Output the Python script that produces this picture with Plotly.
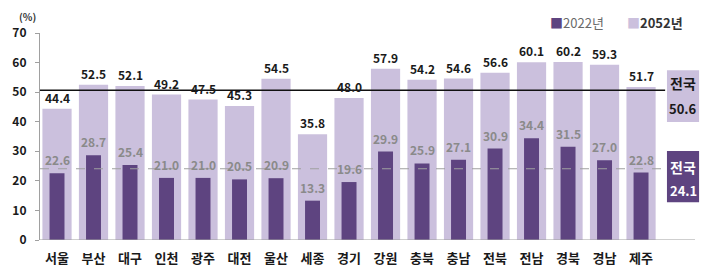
import plotly.graph_objects as go

regions = ["서울", "부산", "대구", "인천", "광주", "대전", "울산", "세종", "경기",
           "강원", "충북", "충남", "전북", "전남", "경북", "경남", "제주"]
y2022 = [22.6, 28.7, 25.4, 21.0, 21.0, 20.5, 20.9, 13.3, 19.6,
         29.9, 25.9, 27.1, 30.9, 34.4, 31.5, 27.0, 22.8]
y2052 = [44.4, 52.5, 52.1, 49.2, 47.5, 45.3, 54.5, 35.8, 48.0,
         57.9, 54.2, 54.6, 56.6, 60.1, 60.2, 59.3, 51.7]
nat2022 = 24.1
nat2052 = 50.6
yticks = [0, 10, 20, 30, 40, 50, 60, 70]

DARK = "#5e4480"
LIGHT = "#cbc0dd"
GRAYTXT = "#8a8a8a"
FONT = "Noto Sans CJK KR"

x = list(range(len(regions)))
xmin, xmax = -0.466, 17.67
line_end = 16.66
axis_end = 17.48

fig = go.Figure()
fig.add_trace(go.Bar(x=x, y=y2052, width=0.8, marker_color=LIGHT, name="2052년",
                     marker_line_width=0, showlegend=False, hoverinfo="skip"))
fig.add_trace(go.Bar(x=x, y=y2022, width=0.41, marker_color=DARK, name="2022년",
                     marker_line_width=0, showlegend=False, hoverinfo="skip"))

anns = []
for xi, v in zip(x, y2052):
    anns.append(dict(x=xi, y=v, text=f"<b>{v:.1f}</b>", showarrow=False, yanchor="bottom",
                     yshift=1, font=dict(family=FONT, size=12, color="#1a1a1a")))
for xi, v in zip(x, y2022):
    anns.append(dict(x=xi, y=v, text=f"<b>{v:.1f}</b>", showarrow=False, yanchor="bottom",
                     yshift=3, font=dict(family=FONT, size=12, color=GRAYTXT)))

shapes = []
shapes.append(dict(type="line", xref="x", yref="y", x0=xmin, x1=line_end, y0=nat2052, y1=nat2052,
                   line=dict(color="#111111", width=1.5), layer="above"))
shapes.append(dict(type="line", xref="x", yref="y", x0=xmin, x1=line_end, y0=nat2022, y1=nat2022,
                   line=dict(color="#a0a0a0", width=1.2, dash="dash"), layer="above"))
shapes.append(dict(type="line", xref="x", yref="y", x0=xmin, x1=axis_end, y0=0, y1=0,
                   line=dict(color="#a0a0a0", width=1.2), layer="above"))
shapes.append(dict(type="rect", xref="x", yref="y", x0=16.71, x1=17.59, y0=39.9, y1=57.4,
                   fillcolor=LIGHT, line_width=0, layer="above"))
shapes.append(dict(type="rect", xref="x", yref="y", x0=16.71, x1=17.59, y0=12.8, y1=30.1,
                   fillcolor=DARK, line_width=0, layer="above"))
anns.append(dict(x=17.15, y=53.0, text="<b>전국</b>", showarrow=False,
                 font=dict(family=FONT, size=14, color="#1a1a1a")))
anns.append(dict(x=17.15, y=44.6, text=f"<b>{nat2052:.1f}</b>", showarrow=False,
                 font=dict(family=FONT, size=13, color="#1a1a1a")))
anns.append(dict(x=17.15, y=24.8, text="<b>전국</b>", showarrow=False,
                 font=dict(family=FONT, size=14, color="white")))
anns.append(dict(x=17.15, y=16.9, text=f"<b>{nat2022:.1f}</b>", showarrow=False,
                 font=dict(family=FONT, size=13, color="white")))
anns.append(dict(xref="paper", yref="paper", x=-0.035, y=1.125, text="<b>(%)</b>", showarrow=False,
                 font=dict(family=FONT, size=10, color="#333")))
anns.append(dict(xref="paper", yref="paper", x=0.768, y=1.105, xanchor="left",
                 text=f"<span style='color:{DARK}'>■</span><span style='color:#6a6a6a'>2022년</span>",
                 showarrow=False, font=dict(family=FONT, size=13)))
anns.append(dict(xref="paper", yref="paper", x=0.883, y=1.105, xanchor="left",
                 text=f"<span style='color:{LIGHT}'>■</span><b><span style='color:#333'>2052년</span></b>",
                 showarrow=False, font=dict(family=FONT, size=13)))

fig.update_layout(
    width=710, height=270,
    margin=dict(l=40, r=8, t=33, b=30),
    barmode="overlay",
    plot_bgcolor="white", paper_bgcolor="white",
    shapes=shapes, annotations=anns,
    showlegend=False,
    font=dict(family=FONT),
)
fig.update_xaxes(range=[xmin, xmax], tickmode="array", tickvals=x, automargin=False,
                 ticktext=[f"<b>{r}</b>" for r in regions], showline=False, showgrid=False,
                 zeroline=False, ticks="", ticklabelstandoff=9,
                 tickfont=dict(family=FONT, size=13, color="#1a1a1a"))
fig.update_yaxes(range=[0, 70], tickmode="array", tickvals=yticks, automargin=False,
                 ticktext=[f"<b>{t}</b>" for t in yticks], showline=True, linecolor="#a0a0a0",
                 linewidth=1.2, showgrid=False, zeroline=False, ticks="outside", ticklen=4,
                 tickcolor="#a0a0a0", ticklabelstandoff=6,
                 tickfont=dict(family=FONT, size=12, color="#1a1a1a"))

fig.write_html("out.html")
